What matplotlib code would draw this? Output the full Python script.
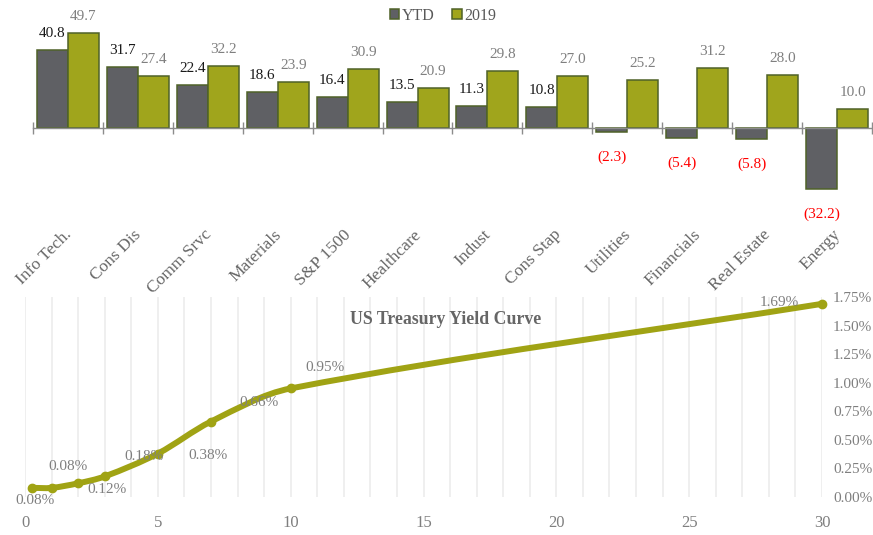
import numpy as np
import matplotlib
matplotlib.use("Agg")
import matplotlib.pyplot as plt
from matplotlib.patches import Patch, PathPatch
from matplotlib.path import Path
from matplotlib.ticker import FuncFormatter, MultipleLocator

# --- Sector returns ---
sectors = ["Info Tech.", "Cons Dis", "Comm Srvc", "Materials", "S&P 1500", "Healthcare",
           "Indust", "Cons Stap", "Utilities", "Financials", "Real Estate", "Energy"]
ytd = [40.8, 31.7, 22.4, 18.6, 16.4, 13.5, 11.3, 10.8, -2.3, -5.4, -5.8, -32.2]
y2019 = [49.7, 27.4, 32.2, 23.9, 30.9, 20.9, 29.8, 27.0, 25.2, 31.2, 28.0, 10.0]

# --- Treasury yield curve ---
maturity = [0.25, 1, 2, 3, 5, 7, 10, 30]
yields = [0.08, 0.08, 0.12, 0.18, 0.38, 0.66, 0.95, 1.69]

# label offsets in pixels (dx, dy), as placed in the original
label_offsets = [(3, -13), (16, 21), (29, -6), (39, 20), (50, -2), (48, 19), (34, 21), (-43, 1)]

GRAY_TXT = "#7f7f7f"
YTD_COL = "#5f6064"
C19_COL = "#a0a51c"
EDGE = "#4f6228"
LINE_COL = "#a0a314"
SERIF = ["Liberation Serif", "DejaVu Serif"]

plt.rcParams["font.family"] = SERIF
plt.rcParams["font.size"] = 11

fig = plt.figure(figsize=(8.73, 5.35), dpi=100)
W, H = 873, 535

# ---------------- bar chart ----------------
ax = fig.add_axes([33 / W, 1 - 204.4 / H, 839 / W, 204.4 / H])
x = np.arange(len(sectors))
bw = 0.443
ax.bar(x - bw / 2, ytd, bw, color=YTD_COL, edgecolor=EDGE, linewidth=1.1, zorder=2)
ax.bar(x + bw / 2, y2019, bw, color=C19_COL, edgecolor=EDGE, linewidth=1.1, zorder=2)
ax.set_xlim(-0.5, len(sectors) - 0.5)
ax.set_ylim(-40, 67)

for s in ["top", "right", "left"]:
    ax.spines[s].set_visible(False)
ax.spines["bottom"].set_position(("data", 0))
ax.spines["bottom"].set_color("#8c8c8c")
ax.spines["bottom"].set_linewidth(1.0)
ax.spines["bottom"].set_zorder(3)
ax.set_yticks([])
ax.set_xticks(np.arange(-0.5, len(sectors), 1.0))
ax.set_xticklabels([])
ax.tick_params(axis="x", direction="inout", length=8, color="#8c8c8c", width=1.0)

for i, v in enumerate(ytd):
    if v >= 0:
        ax.annotate(f"{v:.1f}", (i - bw / 2, v), xytext=(0, 13), textcoords="offset pixels",
                    ha="center", va="baseline", color="#1a1a1a", fontsize=11)
    else:
        ax.annotate(f"({abs(v):.1f})", (i - bw / 2, v), xytext=(0, -18), textcoords="offset pixels",
                    ha="center", va="top", color="#ff0000", fontsize=11)
for i, v in enumerate(y2019):
    ax.annotate(f"{v:.1f}", (i + bw / 2, v), xytext=(0, 13), textcoords="offset pixels",
                ha="center", va="baseline", color=GRAY_TXT, fontsize=11)

for i, name in enumerate(sectors):
    ax.annotate(name, (i, 0), xycoords=("data", "axes fraction"), xytext=(1, -28),
                textcoords="offset pixels", rotation=45, rotation_mode="anchor",
                ha="right", va="center", color="#666666", fontsize=12.5)

fig.legend(handles=[Patch(facecolor=YTD_COL, edgecolor=EDGE, linewidth=1.1, label="YTD"),
                    Patch(facecolor=C19_COL, edgecolor=EDGE, linewidth=1.1, label="2019")],
           loc="center", bbox_to_anchor=(443 / W, 1 - 15.5 / H), ncol=2, frameon=False,
           handlelength=0.6, handleheight=0.6, handletextpad=0.15, columnspacing=1.1,
           fontsize=11.5, labelcolor="#595959")

# ---------------- yield curve ----------------
ax2 = fig.add_axes([25 / W, 38 / H, 797 / W, 200 / H])
ax2.set_xlim(0, 30)
ax2.set_ylim(0, 1.75)
for s in ax2.spines.values():
    s.set_visible(False)
ax2.xaxis.set_major_locator(MultipleLocator(5))
ax2.xaxis.set_minor_locator(MultipleLocator(1))
ax2.grid(True, axis="x", which="both", color="#ececec", linewidth=1.2)
ax2.yaxis.tick_right()
ax2.yaxis.set_major_locator(MultipleLocator(0.25))
ax2.yaxis.set_major_formatter(FuncFormatter(lambda v, p: f"{v:.2f}%"))
ax2.tick_params(axis="both", which="both", length=0, colors=GRAY_TXT)
ax2.tick_params(axis="y", pad=8, labelsize=11)
ax2.tick_params(axis="x", pad=13, labelsize=12)

# smoothed line through the points (Bezier segments, like a spreadsheet smoothed line),
# tangents worked out in screen proportions so long segments don't overshoot
sx, sy = 797 / 30, 200 / 1.75
pts = np.column_stack([np.array(maturity) * sx, np.array(yields) * sy])
n = len(pts)
tang = []
for k in range(n):
    d = pts[min(k + 1, n - 1)] - pts[max(k - 1, 0)]
    tang.append(d / np.hypot(*d))
verts = [tuple(pts[0])]
codes = [Path.MOVETO]
t = 0.33
for k in range(n - 1):
    seg = np.hypot(*(pts[k + 1] - pts[k]))
    c1 = pts[k] + tang[k] * seg * t
    c2 = pts[k + 1] - tang[k + 1] * seg * t
    verts += [tuple(c1), tuple(c2), tuple(pts[k + 1])]
    codes += [Path.CURVE4] * 3
verts = [(vx / sx, vy / sy) for vx, vy in verts]
ax2.add_patch(PathPatch(Path(verts, codes), facecolor="none", edgecolor=LINE_COL,
                        linewidth=4.3, capstyle="round", joinstyle="round", zorder=3))
ax2.plot(maturity, yields, "o", color=LINE_COL, markersize=6, zorder=4, clip_on=False)

for (mx, yv), (dx, dy) in zip(zip(maturity, yields), label_offsets):
    ax2.annotate(f"{yv:.2f}%", (mx, yv), xytext=(dx, dy), textcoords="offset pixels",
                 ha="center", va="center", color=GRAY_TXT, fontsize=11, zorder=5)

fig.text(446 / W, 1 - 320 / H, "US Treasury Yield Curve", ha="center", va="center",
         fontsize=12.8, fontweight="bold", color="#666666")

fig.savefig("out.png", dpi=100)
